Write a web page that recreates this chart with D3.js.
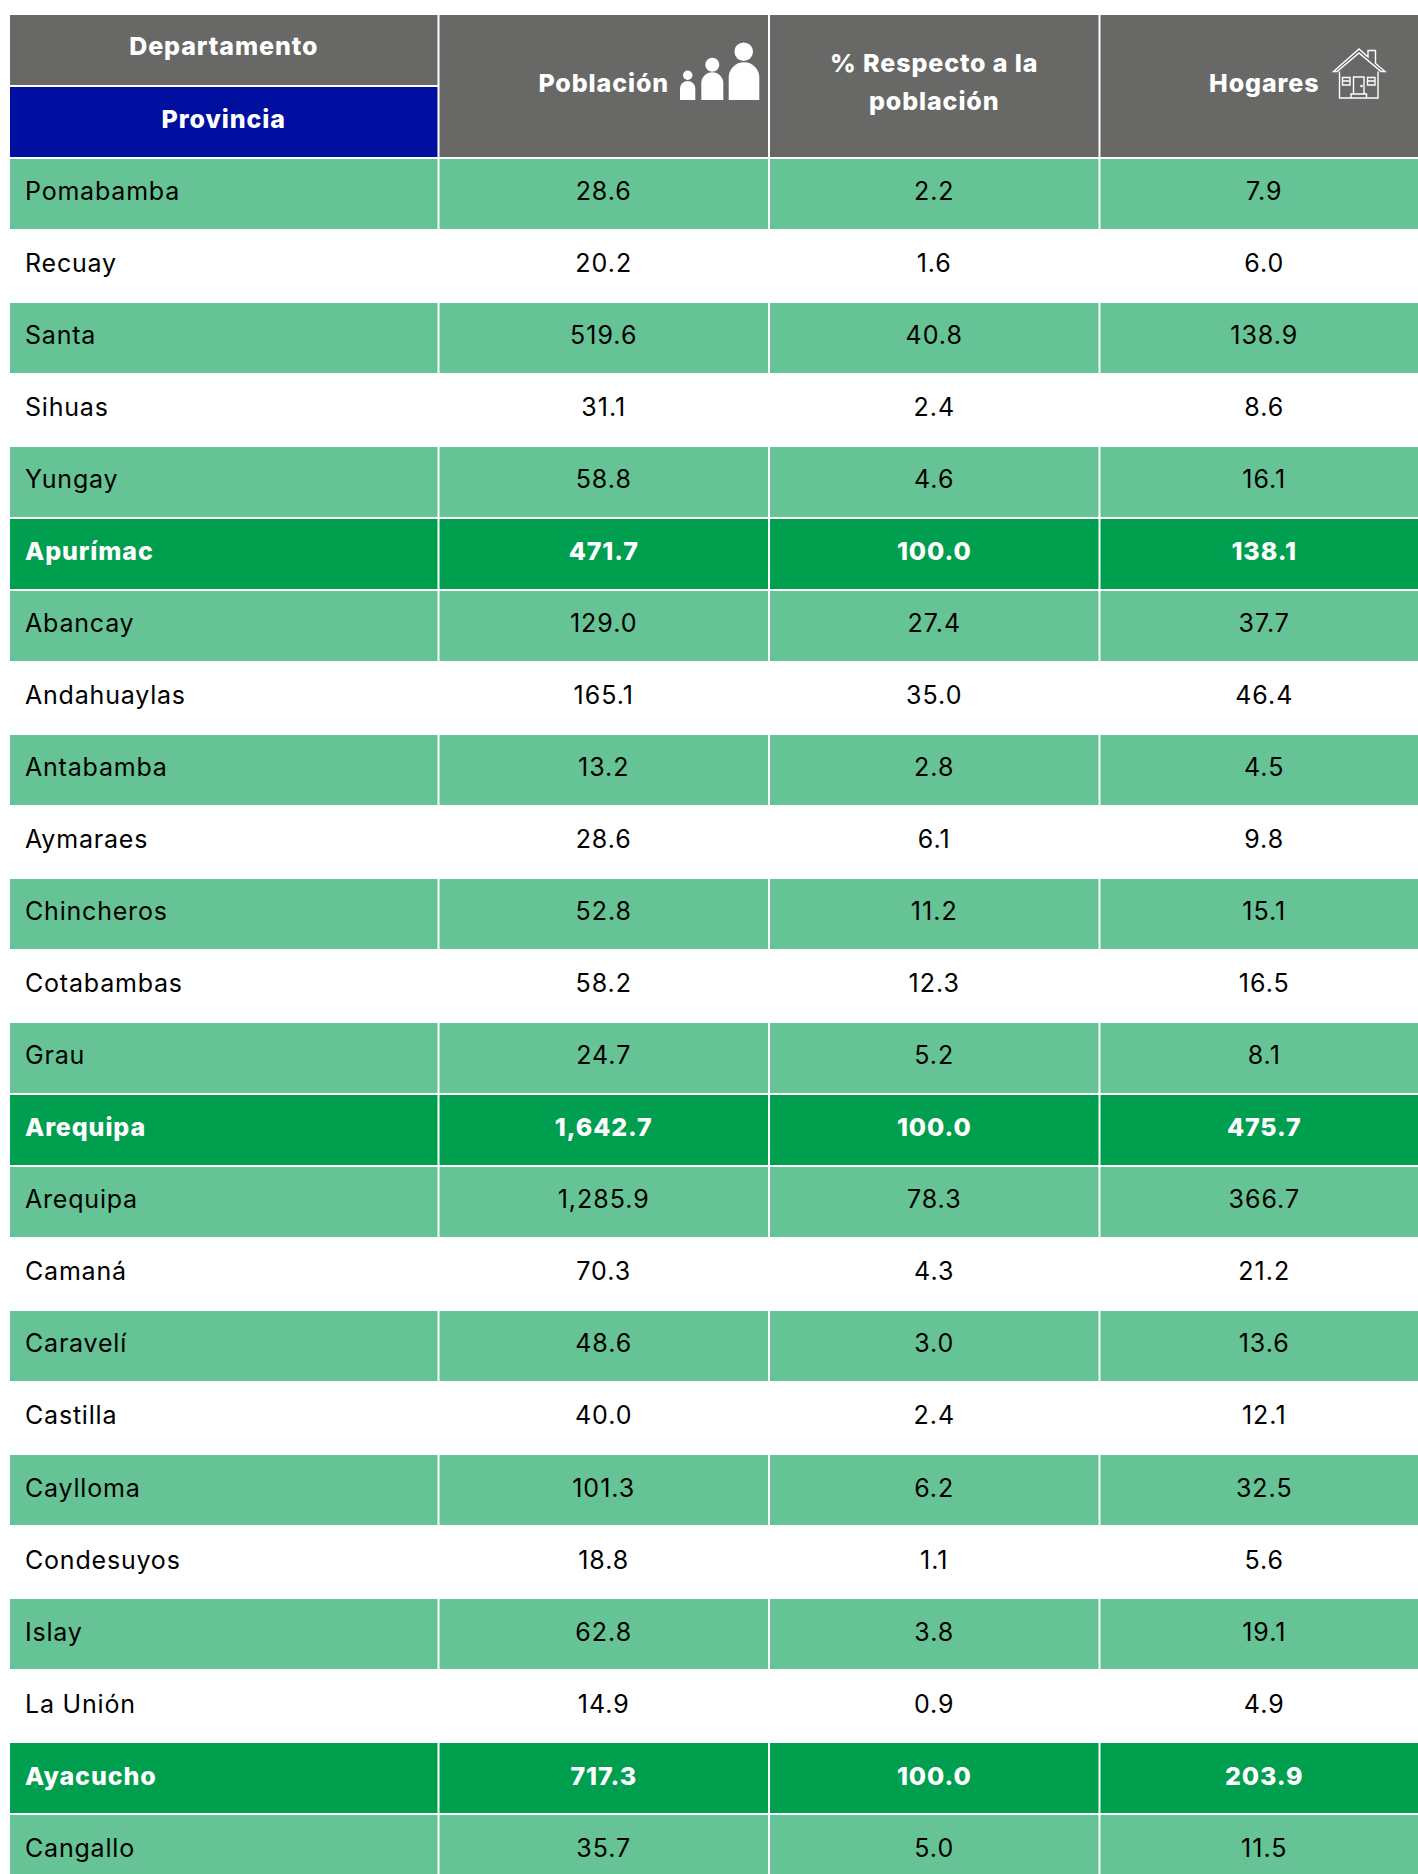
<!DOCTYPE html>
<html>
<head>
<meta charset="utf-8">
<script src="https://d3js.org/d3.v7.min.js"></script>
<style>
  html, body { margin: 0; padding: 0; background: #fff; overflow: hidden; }
  text { font-family: "Inter", sans-serif; }
</style>
</head>
<body>
<div id="table"></div>
<script>
// rows of the table, top to bottom
const provincias = ["Pomabamba", "Recuay", "Santa", "Sihuas", "Yungay", "Apurímac", "Abancay", "Andahuaylas",
    "Antabamba", "Aymaraes", "Chincheros", "Cotabambas", "Grau", "Arequipa", "Arequipa", "Camaná", "Caravelí",
    "Castilla", "Caylloma", "Condesuyos", "Islay", "La Unión", "Ayacucho", "Cangallo"]
const poblacion = [28.6, 20.2, 519.6, 31.1, 58.8, 471.7, 129.0, 165.1, 13.2, 28.6, 52.8, 58.2, 24.7, 1642.7,
    1285.9, 70.3, 48.6, 40.0, 101.3, 18.8, 62.8, 14.9, 717.3, 35.7]
const porcentaje = [2.2, 1.6, 40.8, 2.4, 4.6, 100.0, 27.4, 35.0, 2.8, 6.1, 11.2, 12.3, 5.2, 100.0,
    78.3, 4.3, 3.0, 2.4, 6.2, 1.1, 3.8, 0.9, 100.0, 5.0]
const hogares = [7.9, 6.0, 138.9, 8.6, 16.1, 138.1, 37.7, 46.4, 4.5, 9.8, 15.1, 16.5, 8.1, 475.7,
    366.7, 21.2, 13.6, 12.1, 32.5, 5.6, 19.1, 4.9, 203.9, 11.5]
// d = departamento, c = coloured province row, b = plain white row
const tipoFila = ["c", "b", "c", "b", "c", "d", "c", "b", "c", "b", "c", "b", "c", "d",
    "c", "b", "c", "b", "c", "b", "c", "b", "d", "c"]

const columnas = ["provincia", "poblacion", "porcentaje", "hogares"]
const colInicio = [10, 439.5, 770, 1100.5]
// last column runs past the edge of the picture
const colFin = [437.5, 768, 1098.5, 1428]

const GRIS = "#686866", AZUL = "#000f9f", VERDE = "#009e4f", VERDE_CLARO = "#66c395"
const FONT_SIZE = 25

const svg = d3.select("#table").append("svg")
    .attr("width", 1418)
    .attr("height", 1874)
    .style("display", "block")

const y = d3.scaleBand().domain(d3.range(provincias.length)).range([159, 159 + 72 * provincias.length])
const xIni = d3.scaleOrdinal().domain(columnas).range(colInicio)
const xFin = d3.scaleOrdinal().domain(columnas).range(colFin)
const xMid = (c) => (xIni(c) + xFin(c)) / 2
const fmt = d3.format(",.1f")

const filas = provincias.map((p, i) => ({
    provincia: p, poblacion: fmt(poblacion[i]), porcentaje: fmt(porcentaje[i]), hogares: fmt(hogares[i]), tipo: tipoFila[i], i: i
}))

function drawHeader() {
    const head = svg.append("g")
    const cell = (x0, x1, y0, y1, color) => head.append("rect")
        .attr("x", x0).attr("y", y0).attr("width", x1 - x0).attr("height", y1 - y0).attr("fill", color)
    const label = (txt, x, yy) => head.append("text")
        .attr("x", x).attr("y", yy).attr("text-anchor", "middle")
        .attr("fill", "#fff").attr("font-weight", 800).attr("font-size", FONT_SIZE)
        .attr("letter-spacing", 0.9).text(txt)

    cell(xIni("provincia"), xFin("provincia"), 15, 85, GRIS)
    cell(xIni("provincia"), xFin("provincia"), 87, 157, AZUL)
    columnas.slice(1).forEach((c) => cell(xIni(c), xFin(c), 15, 157, GRIS))

    label("Departamento", xMid("provincia"), 55)
    label("Provincia", xMid("provincia"), 128)
    label("Población", xMid("poblacion"), 92)
    label("% Respecto a la", xMid("porcentaje"), 72)
    label("población", xMid("porcentaje"), 110)
    label("Hogares", xMid("hogares"), 92)

    drawPeople(head)
    drawHouse(head)
}

function drawPeople(g) {
    // three figures, small to large
    const icon = g.append("g").attr("fill", "#fff")
    const figs = [[687.7, 75.3, 4.7, 680, 695.3, 81], [712.3, 64.7, 7, 701.3, 723.3, 72.3], [743.7, 51.7, 9.3, 728.7, 759.3, 62.3]]
    figs.forEach((f) => {
        icon.append("circle").attr("cx", f[0]).attr("cy", f[1]).attr("r", f[2])
        const r = (f[4] - f[3]) / 2
        icon.append("path").attr("d", `M${f[3]},100V${f[5] + r}A${r},${r} 0 0 1 ${f[4]},${f[5] + r}V100Z`)
    })
}

function drawHouse(g) {
    const icon = g.append("g").attr("fill", "none").attr("stroke", "#fff").attr("stroke-width", 1.4)
    icon.append("path").attr("d", "M1333.5,71.5L1359,49L1368,57V50.5H1375.5V63.5L1385,71.5H1381L1359,53L1337,71.5Z")
    icon.append("path").attr("d", "M1339.5,71.5V98H1378V71.5")
    icon.append("path").attr("d", "M1353.5,94V77H1364V94")
    icon.append("path").attr("d", "M1351,98V94H1366.5V98")
    icon.append("path").attr("d", "M1342.5,77.5H1350V85H1342.5ZM1342.5,81H1350M1367.5,77.5H1375V85H1367.5ZM1367.5,81H1375")
    icon.append("circle").attr("cx", 1361.5).attr("cy", 86).attr("r", 0.6).attr("fill", "#fff")
}

function drawRows() {
    const row = svg.append("g").selectAll("g").data(filas).join("g")
        .attr("transform", (d) => `translate(0,${y(d.i)})`)

    columnas.forEach((c) => {
        row.filter((d) => d.tipo != "b").append("rect")
            .attr("x", xIni(c))
            .attr("width", xFin(c) - xIni(c))
            .attr("height", 70)
            .attr("fill", (d) => d.tipo == "d" ? VERDE : VERDE_CLARO)

        //text sits a pixel lower from Caylloma down
        row.append("text")
            .attr("x", c == "provincia" ? 25 : xMid(c))
            .attr("y", (d) => d.i < 18 ? 41 : 42)
            .attr("text-anchor", c == "provincia" ? "start" : "middle")
            .attr("font-size", FONT_SIZE)
            .attr("font-weight", (d) => d.tipo == "d" ? 800 : 400)
            .attr("letter-spacing", (d) => d.tipo == "d" ? 0.9 : (c == "provincia" ? 0.8 : 1))
            .attr("fill", (d) => d.tipo == "d" ? "#fff" : "#000")
            .text((d) => d[c])
    })
}

drawHeader()
drawRows()
</script>
</body>
</html>
